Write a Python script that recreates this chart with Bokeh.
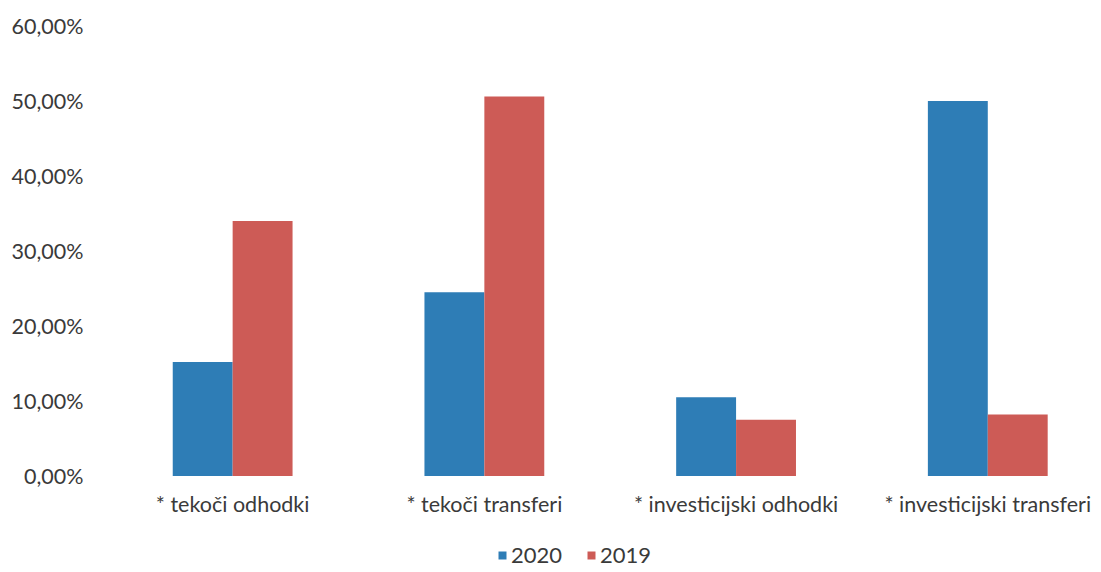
from bokeh.plotting import figure
from bokeh.models import Range1d, FixedTicker, Legend, LegendItem, ColumnDataSource
from bokeh.embed import file_html
from bokeh.resources import INLINE

categories = ["* tekoči odhodki", "* tekoči transferi", "* investicijski odhodki", "* investicijski transferi"]
series_names = ["2020", "2019"]
values_2020 = [15.2, 24.5, 10.5, 50.0]
values_2019 = [34.0, 50.6, 7.5, 8.2]
y_ticks = [0, 10, 20, 30, 40, 50, 60]
y_tick_labels = ["0,00%", "10,00%", "20,00%", "30,00%", "40,00%", "50,00%", "60,00%"]

colors = ["#2e7db6", "#cd5b56"]
FONT = "Lato"
TXT = "#3a3a3a"

centers = [i + 0.5 for i in range(len(categories))]
bw = 0.238

src = ColumnDataSource(dict(
    x20=[c - bw / 2 for c in centers],
    x19=[c + bw / 2 for c in centers],
    v20=values_2020,
    v19=values_2019,
))

p = figure(frame_width=993, frame_height=551, output_backend="svg", toolbar_location=None,
           x_range=Range1d(-0.025, 3.92), y_range=Range1d(-12.73, 60.73),
           min_border_left=100, min_border_right=0, min_border_top=20, min_border_bottom=0)
p.outline_line_color = None
p.background_fill_color = "white"
p.border_fill_color = "white"

r20 = p.vbar(x="x20", top="v20", width=bw, bottom=0, source=src, color=colors[0], line_color=None)
r19 = p.vbar(x="x19", top="v19", width=bw, bottom=0, source=src, color=colors[1], line_color=None)

p.xgrid.visible = False
p.ygrid.visible = False

xa = p.xaxis[0]
xa.fixed_location = 0
xa.ticker = FixedTicker(ticks=centers)
xa.major_label_overrides = {c: cat for c, cat in zip(centers, categories)}
xa.axis_line_color = None
xa.major_tick_line_color = None
xa.minor_tick_line_color = None
xa.major_label_text_font = FONT
xa.major_label_text_font_size = "21.5px"
xa.major_label_text_color = TXT
xa.major_label_standoff = 9

ya = p.yaxis[0]
ya.ticker = FixedTicker(ticks=y_ticks)
ya.major_label_overrides = {t: l for t, l in zip(y_ticks, y_tick_labels)}
ya.axis_line_color = None
ya.major_tick_line_color = None
ya.minor_tick_line_color = None
ya.major_label_text_font = FONT
ya.major_label_text_font_size = "21.5px"
ya.major_label_text_color = TXT
ya.major_label_standoff = 11

legend = Legend(items=[LegendItem(label=series_names[0], renderers=[r20]),
                       LegendItem(label=series_names[1], renderers=[r19])],
                orientation="horizontal", location=(397, 3))
legend.label_text_font = FONT
legend.label_text_font_size = "22px"
legend.label_text_color = TXT
legend.glyph_width = 10
legend.glyph_height = 10
legend.label_height = 20
legend.label_standoff = 4
legend.spacing = 24
legend.padding = 0
legend.margin = 0
legend.border_line_color = None
legend.background_fill_alpha = 0
p.add_layout(legend, "center")

open("out.html", "w").write(file_html(p, INLINE))
